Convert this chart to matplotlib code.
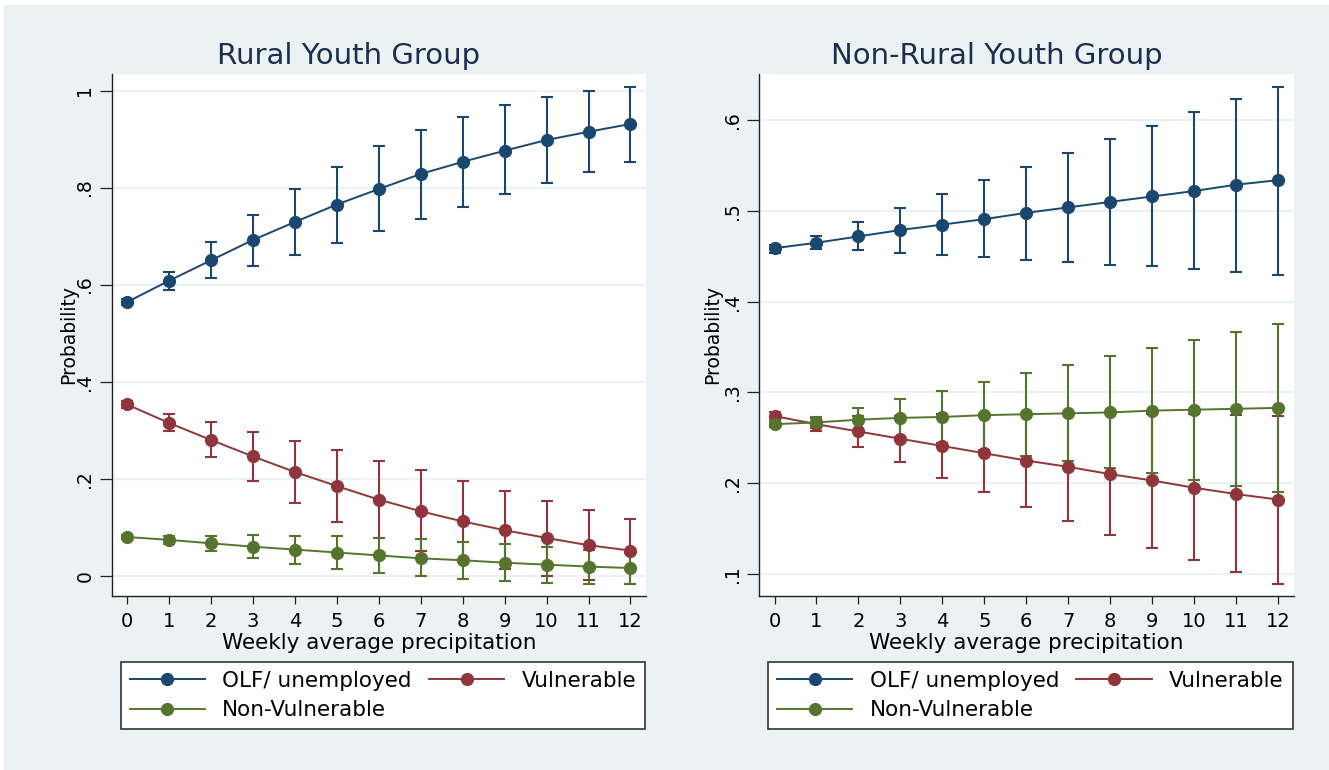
import matplotlib

matplotlib.use("Agg")
import matplotlib.pyplot as plt
from matplotlib.patches import Rectangle

# Predicted probabilities (with 95% CIs) by weekly average precipitation
PRECIP = [0, 1, 2, 3, 4, 5, 6, 7, 8, 9, 10, 11, 12]
SERIES = ["OLF/ unemployed", "Vulnerable", "Non-Vulnerable"]

rural_olf = [0.564, 0.608, 0.650, 0.692, 0.729, 0.765, 0.797, 0.828, 0.853, 0.876, 0.898, 0.915, 0.931]
rural_olf_lo = [0.557, 0.589, 0.614, 0.638, 0.662, 0.686, 0.711, 0.735, 0.760, 0.786, 0.809, 0.832, 0.853]
rural_olf_hi = [0.571, 0.626, 0.687, 0.744, 0.797, 0.843, 0.885, 0.919, 0.946, 0.970, 0.987, 1.000, 1.008]

rural_vul = [0.353, 0.315, 0.280, 0.246, 0.214, 0.185, 0.157, 0.133, 0.112, 0.094, 0.078, 0.063, 0.052]
rural_vul_lo = [0.346, 0.298, 0.245, 0.195, 0.151, 0.111, 0.077, 0.052, 0.029, 0.013, -0.001, -0.009, -0.016]
rural_vul_hi = [0.360, 0.333, 0.316, 0.297, 0.278, 0.259, 0.237, 0.217, 0.195, 0.175, 0.154, 0.135, 0.117]

rural_nonvul = [0.080, 0.074, 0.067, 0.060, 0.054, 0.048, 0.042, 0.036, 0.032, 0.027, 0.023, 0.019, 0.016]
rural_nonvul_lo = [0.076, 0.066, 0.051, 0.037, 0.025, 0.015, 0.006, -0.001, -0.007, -0.011, -0.014, -0.016, -0.017]
rural_nonvul_hi = [0.084, 0.082, 0.082, 0.084, 0.083, 0.081, 0.078, 0.075, 0.070, 0.065, 0.060, 0.054, 0.048]

urban_olf = [0.459, 0.465, 0.472, 0.479, 0.485, 0.491, 0.498, 0.504, 0.510, 0.516, 0.522, 0.529, 0.534]
urban_olf_lo = [0.454, 0.458, 0.457, 0.454, 0.451, 0.449, 0.446, 0.444, 0.441, 0.439, 0.436, 0.433, 0.430]
urban_olf_hi = [0.463, 0.472, 0.488, 0.503, 0.519, 0.534, 0.549, 0.564, 0.579, 0.594, 0.609, 0.623, 0.637]

urban_vul = [0.274, 0.265, 0.257, 0.249, 0.241, 0.233, 0.225, 0.218, 0.210, 0.203, 0.195, 0.188, 0.182]
urban_vul_lo = [0.270, 0.258, 0.240, 0.223, 0.206, 0.190, 0.174, 0.158, 0.143, 0.129, 0.115, 0.102, 0.089]
urban_vul_hi = [0.278, 0.272, 0.274, 0.274, 0.276, 0.276, 0.276, 0.277, 0.277, 0.276, 0.276, 0.275, 0.274]

urban_nonvul = [0.265, 0.267, 0.270, 0.272, 0.273, 0.275, 0.276, 0.277, 0.278, 0.280, 0.281, 0.282, 0.283]
urban_nonvul_lo = [0.262, 0.261, 0.257, 0.251, 0.244, 0.237, 0.230, 0.224, 0.217, 0.211, 0.204, 0.197, 0.190]
urban_nonvul_hi = [0.268, 0.273, 0.283, 0.293, 0.302, 0.312, 0.321, 0.330, 0.340, 0.349, 0.358, 0.367, 0.376]

RURAL_YTICKS = [0.0, 0.2, 0.4, 0.6, 0.8, 1.0]
RURAL_YLABELS = ["0", ".2", ".4", ".6", ".8", "1"]
URBAN_YTICKS = [0.1, 0.2, 0.3, 0.4, 0.5, 0.6]
URBAN_YLABELS = [".1", ".2", ".3", ".4", ".5", ".6"]

COLORS = ["#1a476f", "#90353b", "#55752f"]
BG = "#eaf2f3"
TITLE_COLOR = "#1e2d4f"

W, H = 1329, 770


def draw_panel(ax, title, series, yticks, ylabels, ylim, ylabel_x):
    ax.set_facecolor("white")
    # confidence intervals first, then the connected point estimates
    for (mean, lo, hi), color in zip(series, COLORS):
        ax.errorbar(
            PRECIP,
            mean,
            yerr=[[m - l for m, l in zip(mean, lo)], [h - m for m, h in zip(mean, hi)]],
            fmt="none",
            ecolor=color,
            elinewidth=1.5,
            capsize=4.5,
            capthick=1.5,
            zorder=2,
        )
    lines = []
    for (mean, _, _), color, name in zip(series, COLORS, SERIES):
        (line,) = ax.plot(PRECIP, mean, color=color, lw=1.4, marker="o", markersize=8.5, label=name, zorder=3)
        lines.append(line)

    ax.set_xlim(-0.37, 12.37)
    ax.set_ylim(*ylim)
    ax.set_xticks(PRECIP)
    ax.set_yticks(yticks)
    ax.set_yticklabels(ylabels, rotation=90, va="center")
    ax.grid(True, axis="y", color=BG, lw=1.6, zorder=0)
    ax.set_axisbelow(True)

    for side in ("top", "right"):
        ax.spines[side].set_visible(False)
    for side in ("left", "bottom"):
        ax.spines[side].set_color("#222222")
        ax.spines[side].set_linewidth(1.0)
    ax.tick_params(axis="x", length=6, width=0.9, color="#222222", labelsize=14, pad=6)
    ax.tick_params(axis="y", length=8.3, width=0.9, color="#222222", labelsize=13.5, pad=4)

    ax.set_title(title, fontsize=21, color=TITLE_COLOR, pad=7, x=0.444)
    ax.set_xlabel("Weekly average precipitation", fontsize=15.5, labelpad=1)
    ax.set_ylabel("Probability", fontsize=13.5)
    ax.yaxis.set_label_coords(ylabel_x, 0.5)

    # legend fills column-wise, so order handles to read across rows
    order = [0, 2, 1]
    leg = ax.legend(
        [lines[i] for i in order],
        [SERIES[i] for i in order],
        loc="upper left",
        bbox_to_anchor=(0.017, -0.127),
        borderaxespad=0,
        ncol=2,
        fontsize=15.5,
        frameon=True,
        fancybox=False,
        framealpha=1,
        edgecolor="#333333",
        handlelength=3.5,
        handletextpad=0.8,
        columnspacing=0.8,
        labelspacing=0.42,
        borderpad=0.42,
    )
    leg.get_frame().set_linewidth(1.2)


def main() -> None:
    fig = plt.figure(figsize=(W / 100, H / 100), dpi=100, facecolor="white")
    fig.add_artist(
        Rectangle((4 / W, 0), 1, (H - 5) / H, transform=fig.transFigure, color=BG, zorder=-10)
    )

    ax_w = 534.5 / W
    ax_b = (H - 595.7) / H
    ax_h = (595.7 - 74) / H
    ax_rural = fig.add_axes([111.5 / W, ax_b, ax_w, ax_h])
    ax_urban = fig.add_axes([759 / W, ax_b, ax_w, ax_h])

    draw_panel(
        ax_rural,
        "Rural Youth Group",
        [
            (rural_olf, rural_olf_lo, rural_olf_hi),
            (rural_vul, rural_vul_lo, rural_vul_hi),
            (rural_nonvul, rural_nonvul_lo, rural_nonvul_hi),
        ],
        RURAL_YTICKS,
        RURAL_YLABELS,
        (-0.041, 1.034),
        -0.063,
    )
    draw_panel(
        ax_urban,
        "Non-Rural Youth Group",
        [
            (urban_olf, urban_olf_lo, urban_olf_hi),
            (urban_vul, urban_vul_lo, urban_vul_hi),
            (urban_nonvul, urban_nonvul_lo, urban_nonvul_hi),
        ],
        URBAN_YTICKS,
        URBAN_YLABELS,
        (0.076, 0.651),
        -0.069,
    )

    fig.savefig("out.png", dpi=100, facecolor=fig.get_facecolor())


if __name__ == "__main__":
    main()
